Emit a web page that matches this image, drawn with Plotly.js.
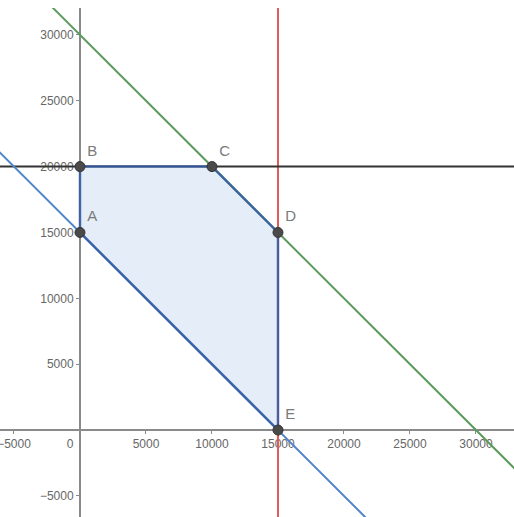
<!DOCTYPE html>
<html><head><meta charset="utf-8">
<script src="https://cdn.plot.ly/plotly-3.0.1.min.js"></script>
<style>html,body{margin:0;padding:0;background:#fff}#chart{width:514px;height:517px}</style>
</head><body><div id="chart"></div>
<script>
// Feasible-region vertices
var vertexNames = ['A','B','C','D','E'];
var vertexX = [0, 0, 10000, 15000, 15000];
var vertexY = [15000, 20000, 20000, 15000, 0];
// Constraint lines: a*x + b*y = c
var lineA = [1, 1, 0, 1];
var lineB = [1, 0, 1, 1];
var lineC = [30000, 15000, 20000, 15000];
var lineColors = ['#5e9a5e', '#e35a5a', '#333333', '#4f86c9'];
// Axis ticks
var xTickVals = [-5000, 0, 5000, 10000, 15000, 20000, 25000, 30000];
var xTickText = ['\u22125000', '0\u00a0\u00a0\u00a0\u00a0\u00a0\u00a0', '5000', '10000', '15000', '20000', '25000', '30000'];
var yTickVals = [-5000, 5000, 10000, 15000, 20000, 25000, 30000];
var yTickText = ['\u22125000', '5000', '10000', '15000', '20000', '25000', '30000'];

var xRange = [-6060, 32880];
var yRange = [-6600, 32040];

var traces = [];
for (var i = 0; i < lineA.length; i++) {
  var a = lineA[i], b = lineB[i], c = lineC[i], xs, ys;
  if (b === 0) { xs = [c / a, c / a]; ys = [yRange[0] - 1000, yRange[1] + 1000]; }
  else { xs = [xRange[0] - 1000, xRange[1] + 1000]; ys = xs.map(function (x) { return (c - a * x) / b; }); }
  traces.push({x: xs, y: ys, mode: 'lines', line: {color: lineColors[i], width: 2}, hoverinfo: 'skip', showlegend: false});
}
// polygon
traces.push({
  x: vertexX.concat([vertexX[0]]), y: vertexY.concat([vertexY[0]]),
  mode: 'lines', fill: 'toself', fillcolor: 'rgba(190,212,238,0.4)',
  line: {color: 'rgba(45,85,160,0.8)', width: 2.5}, showlegend: false, hoverinfo: 'skip'
});
// points
traces.push({
  x: vertexX, y: vertexY, text: vertexNames, mode: 'markers+text',
  textposition: 'top right', textfont: {family: 'Liberation Sans, Arial, sans-serif', size: 15, color: '#7a7a7a'},
  marker: {size: 10, color: '#4a4a4a', line: {color: '#333', width: 1}}, showlegend: false, hoverinfo: 'skip'
});

var yPos = (0 - xRange[0]) / (xRange[1] - xRange[0]);
var xPos = (0 - yRange[0]) / (yRange[1] - yRange[0]);

var axisCommon = {showgrid: false, zeroline: false, anchor: 'free', layer: 'below traces',
  showline: true, linecolor: '#8a8a8a', linewidth: 2, ticks: 'outside', ticklen: 3, tickcolor: '#8a8a8a',
  tickmode: 'array', ticklabeloverflow: 'allow',
  tickfont: {family: 'Liberation Sans, Arial, sans-serif', size: 12, color: '#666'}, fixedrange: true};

var layout = {
  width: 514, height: 517,
  margin: {l: 0, r: 0, t: 8, b: 0},
  paper_bgcolor: '#fff', plot_bgcolor: '#fff',
  xaxis: Object.assign({}, axisCommon, {range: xRange, position: xPos, tickvals: xTickVals, ticktext: xTickText}),
  yaxis: Object.assign({}, axisCommon, {range: yRange, position: yPos, tickvals: yTickVals, ticktext: yTickText}),
  showlegend: false
};
Plotly.newPlot('chart', traces, layout, {displayModeBar: false, staticPlot: true});
</script></body></html>
